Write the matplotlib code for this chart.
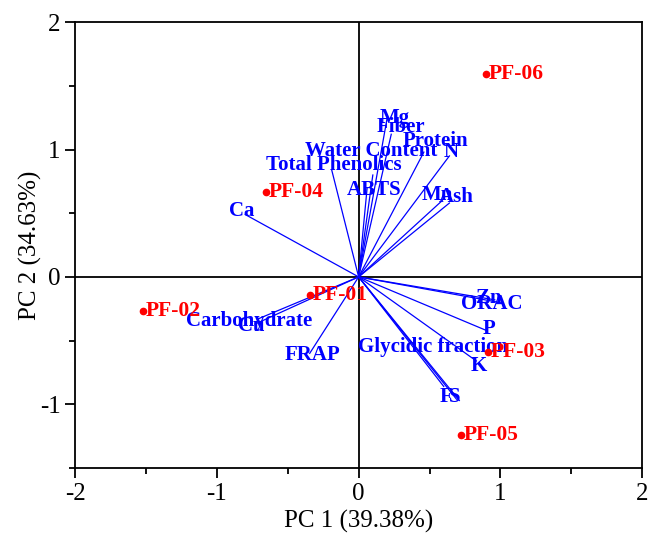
import matplotlib
matplotlib.use("Agg")
import matplotlib.pyplot as plt
from matplotlib.ticker import MultipleLocator

# PCA scores of the samples
samples = ["PF-01", "PF-02", "PF-03", "PF-04", "PF-05", "PF-06"]
score_pc1 = [-0.345, -1.52, 0.91, -0.655, 0.72, 0.90]
score_pc2 = [-0.14, -0.27, -0.59, 0.67, -1.24, 1.59]

# PCA loadings of the variables
variables = ["Mg", "Fiber", "Protein", "Water Content", "N", "Total Phenolics",
             "ABTS", "Mn", "Ash", "Ca", "Zn", "ORAC", "Carbohydrate", "Cu",
             "P", "FRAP", "Glycidic fraction", "K", "F", "S"]
load_pc1 = [0.20, 0.23, 0.46, 0.10, 0.64, -0.19,
            0.06, 0.59, 0.64, -0.80, 0.96, 0.99, -0.71, -0.73,
            0.90, -0.345, 0.60, 0.83, 0.69, 0.71]
load_pc2 = [1.24, 1.12, 0.98, 0.80, 0.95, 0.84,
            0.70, 0.60, 0.58, 0.49, -0.18, -0.20, -0.33, -0.37,
            -0.42, -0.60, -0.86, -0.66, -0.96, -0.97]

# where each variable name sits (data coords, text centre)
label_xy = {
    "Mg": (0.254, 1.25), "Fiber": (0.30, 1.18), "Protein": (0.54, 1.07),
    "Water Content": (0.085, 0.99), "N": (0.655, 0.98),
    "Total Phenolics": (-0.176, 0.875), "ABTS": (0.11, 0.68),
    "Mn": (0.556, 0.64), "Ash": (0.69, 0.625), "Ca": (-0.824, 0.516),
    "Zn": (0.92, -0.165), "ORAC": (0.937, -0.21),
    "Carbohydrate": (-0.775, -0.344), "Cu": (-0.76, -0.385),
    "P": (0.92, -0.41), "FRAP": (-0.324, -0.61),
    "Glycidic fraction": (0.528, -0.547), "K": (0.85, -0.70),
    "F": (0.615, -0.94), "S": (0.675, -0.945),
}

serif = ["Liberation Serif", "DejaVu Serif"]
plt.rcParams["font.family"] = serif
plt.rcParams["axes.unicode_minus"] = False

fig = plt.figure(figsize=(6.49, 5.41), dpi=100)
ax = fig.add_axes([0.1156, 0.135, 0.874, 0.824])

ax.axhline(0, color="black", lw=1.3, zorder=1)
ax.axvline(0, color="black", lw=1.3, zorder=1)

for name, lx, ly in zip(variables, load_pc1, load_pc2):
    ax.plot([0, lx], [0, ly], color="blue", lw=0.9, zorder=2)
    tx, ty = label_xy[name]
    ax.text(tx, ty, name, color="blue", fontsize=15, fontweight="bold",
            ha="center", va="center", zorder=3)

ax.plot(score_pc1, score_pc2, "o", color="red", ms=4.5, zorder=4)
for name, sx, sy in zip(samples, score_pc1, score_pc2):
    ax.annotate(name, (sx, sy), xytext=(2, 0), textcoords="offset points",
                color="red", fontsize=15.5, fontweight="bold",
                ha="left", va="center", zorder=4)

ax.set_xlim(-2, 2)
ax.set_ylim(-1.5, 2)
ax.xaxis.set_major_locator(MultipleLocator(1))
ax.xaxis.set_minor_locator(MultipleLocator(0.5))
ax.yaxis.set_major_locator(MultipleLocator(1))
ax.yaxis.set_minor_locator(MultipleLocator(0.5))
ax.tick_params(which="major", direction="out", length=7, width=1.3,
               labelsize=18, top=False, right=False)
ax.tick_params(which="minor", direction="out", length=4, width=1.3,
               top=False, right=False)
for sp in ax.spines.values():
    sp.set_linewidth(1.3)

ax.set_xlabel("PC 1 (39.38%)", fontsize=18, labelpad=4)
ax.set_ylabel("PC 2 (34.63%)", fontsize=18, labelpad=-2)

fig.savefig("out.png", dpi=100)
